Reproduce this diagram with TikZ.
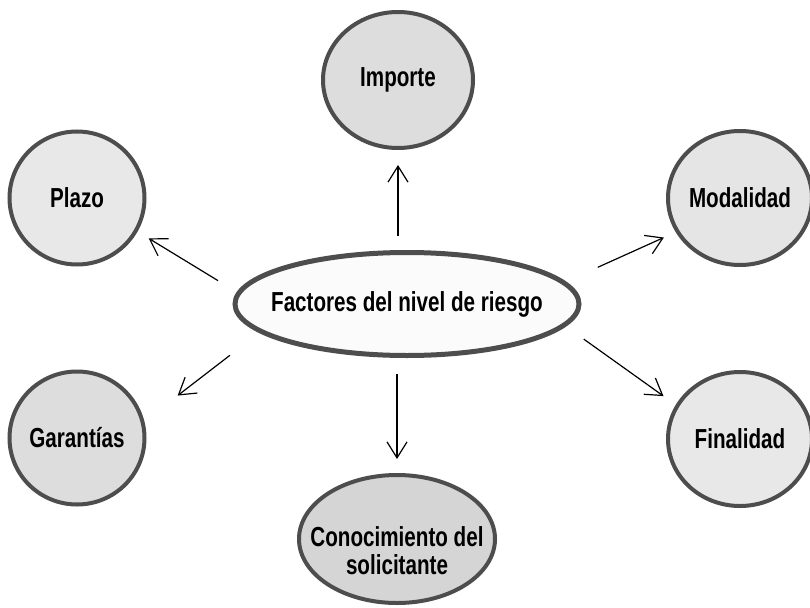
\documentclass[tikz,border=0pt]{standalone}
\usepackage{fontspec}
\usepackage{tikz}
\usetikzlibrary{arrows.meta,shapes.geometric,positioning}
\newfontfamily\labelfont[FakeStretch=0.75]{Liberation Sans}
\definecolor{edgegray}{HTML}{4D4D4D}
\definecolor{hubfill}{HTML}{FBFBFB}
\definecolor{palefill}{HTML}{E8E8E8}
\definecolor{lightfill}{HTML}{E5E5E5}
\definecolor{midfill}{HTML}{DDDDDD}
\definecolor{darkfill}{HTML}{D5D5D5}
\tikzset{%
	hub/.style    = {draw=edgegray, ellipse, line width=5pt, fill=hubfill, minimum width=344pt, minimum height=103pt, inner xsep=-120pt, inner ysep=0pt, font=\labelfont\bfseries\fontsize{27.5pt}{30pt}\selectfont}, % centre
	factor/.style = {draw=edgegray, ellipse, line width=4pt, inner xsep=-40pt, inner ysep=0pt, align=center, font=\labelfont\bfseries\fontsize{27.5pt}{28pt}\selectfont}, % factors
	link/.style   = {line width=1.2pt, ->},
}

\begin{document}
\begin{tikzpicture}[x=1pt,y=-1pt,>={Straight Barb[length=16pt,width=20pt]}]
	\useasboundingbox (0,0) rectangle (810,607);
	\node [hub] (factores) at (407,304) {Factores del nivel de riesgo};
	\node [factor,fill=midfill,minimum width=150pt,minimum height=136pt] (importe) at (398,80) {Importe};
	\node [factor,fill=palefill,minimum width=135pt,minimum height=133pt] (plazo) at (77,198) {Plazo};
	\node [factor,fill=lightfill,minimum width=144pt,minimum height=134pt] (modalidad) at (740,198) {Modalidad};
	\node [factor,fill=midfill,minimum width=135pt,minimum height=133pt] (garantias) at (77,438) {Garantías};
	\node [factor,fill=palefill,minimum width=144pt,minimum height=134pt] (finalidad) at (740,439) {Finalidad};
	\node [factor,fill=darkfill,minimum width=196pt,minimum height=128pt] (conocimiento) at (397,539) {\raisebox{-22pt}[0pt][0pt]{\begin{tabular}{@{}c@{}}Conocimiento del\\solicitante\end{tabular}}};
	
	\draw[link,shorten <=14pt,shorten >=15pt] (factores.north -| importe) -- (importe.south);
	\draw[link,shorten <=16pt,shorten >=14pt] (factores.south -| conocimiento) -- (conocimiento.north);
	\draw[link,shorten <=22pt,shorten >=13pt] (factores.176.4) -- (plazo.-29.5);
	\draw[link,shorten <=37pt,shorten >=42pt] (factores.191.5) -- (garantias.14);
	\draw[link,shorten <=35pt,shorten >=13pt] (factores.8.9) -- (modalidad.208.8);
	\draw[link,shorten <=22pt,shorten >=15pt] (factores.-8.86) -- (finalidad.152.4);
\end{tikzpicture}
\end{document}
